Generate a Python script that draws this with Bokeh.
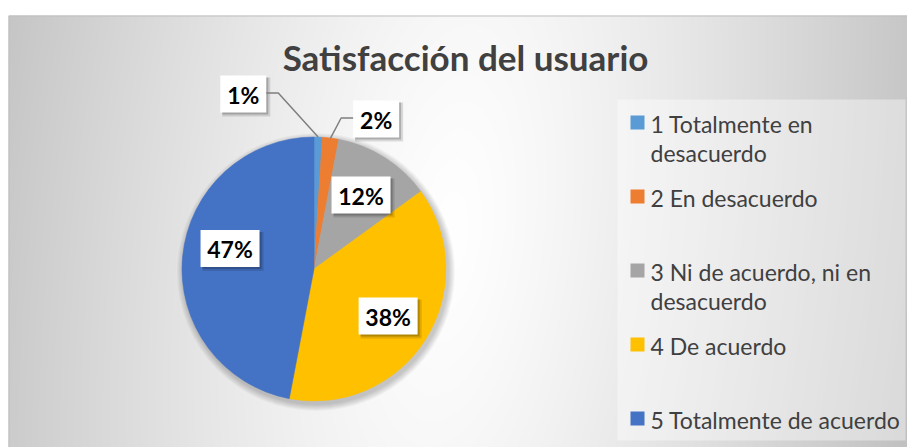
import math
import textwrap
import numpy as np
from bokeh.plotting import figure
from bokeh.models import Range1d
from bokeh.core.properties import value
from bokeh.embed import file_html
from bokeh.resources import INLINE

# ---- data ----
title_text = "Satisfacción del usuario"
categories = [
    "1 Totalmente en desacuerdo",
    "2 En desacuerdo",
    "3 Ni de acuerdo, ni en desacuerdo",
    "4 De acuerdo",
    "5 Totalmente de acuerdo",
]
shares = [1, 2, 12, 38, 47]
colors = ["#5B9BD5", "#ED7D31", "#A5A5A5", "#FFC000", "#4472C4"]

# ---- layout (pixel-like data space) ----
W, H = 907, 447
OX, OY = 0, 447          # image -> data: x = X - OX, y = OY - Y
def dx(X): return X - OX
def dy(Y): return OY - Y

FONT = "Lato"
cx, cy, R = dx(313.5), dy(268.5), 132.0
# label placement: (angle from top in deg, distance as fraction of R) ; None = slice middle
label_layout = [(-22.0, 1.43), (22.5, 1.23), (None, 0.665), (None, 0.665), (8.4, 0.655)]

p = figure(width=W, height=H, x_range=Range1d(0, W), y_range=Range1d(0, H),
           output_backend="svg", toolbar_location=None,
           x_axis_type=None, y_axis_type=None, min_border=0,
           background_fill_color="white", border_fill_color="white",
           outline_line_color=None)
p.grid.visible = False

# ---- background gradient ----
left_x, top_y = dx(8), dy(15)
cols, rows = W - 8, 216
xs = left_x + np.arange(cols) + 0.5
ys = (np.arange(rows) + 0.5) * (top_y / rows)
Xg, Yg = np.meshgrid(xs + OX, OY - ys)
xc = 470 - (Yg - 30) * 40 / 410
ax = np.where(Xg < xc, 455.0, 440.0)
t = np.sqrt(((Xg - xc) / ax) ** 2 + ((Yg - 235) / 1100) ** 2)
v = np.clip(255 - 55 * t ** 1.25, 190, 255).astype(np.uint8)
img = np.empty((rows, cols), dtype=np.uint32)
view = img.view(dtype=np.uint8).reshape((rows, cols, 4))
view[..., 0] = v
view[..., 1] = v
view[..., 2] = v
view[..., 3] = 255
p.image_rgba(image=[img], x=left_x, y=0, dw=cols, dh=top_y)
# chart border
p.line(x=[left_x + 0.5, left_x + 0.5, W], y=[0, top_y - 0.5, top_y - 0.5],
       line_color="#BFBFBF", line_width=1)

# ---- legend area overlay ----
p.quad(left=dx(617), right=dx(905), bottom=dy(440), top=dy(99),
       fill_color="white", fill_alpha=0.4, line_color=None)

# ---- title ----
p.text(x=[dx(465)], y=[dy(56)], text=[title_text], text_font=value(FONT),
       text_font_size="35px", text_font_style="bold", text_color="#404040",
       text_align="center", text_baseline="middle")

# ---- pie shadow ----
for k in range(1, 8):
    p.circle(x=[cx + 2], y=[cy - 3], radius=R + k, fill_color="black",
             fill_alpha=0.03, line_color=None)

# ---- pie ----
total = float(sum(shares))
cum = np.concatenate([[0], np.cumsum(shares)]) / total
starts = math.pi / 2 - 2 * math.pi * cum[:-1]
ends = math.pi / 2 - 2 * math.pi * cum[1:]
p.wedge(x=cx, y=cy, radius=R, start_angle=starts, end_angle=ends,
        direction="clock", fill_color=colors, line_color=colors, line_width=0.5)

# ---- data labels ----
mids_deg = [(cum[i] + cum[i + 1]) / 2 * 360 for i in range(len(shares))]
lab_txt = [f"{round(s / total * 100)}%" for s in shares]
box_h = 37
for i, s in enumerate(shares):
    ang, frac = label_layout[i]
    if ang is None:
        a = mids_deg[i]
    elif frac < 1:
        a = mids_deg[i] + ang
    else:
        a = ang
    lx = cx + frac * R * math.sin(math.radians(a))
    ly = cy + frac * R * math.cos(math.radians(a))
    bw = 20 + 13 * len(lab_txt[i])
    # shadow
    p.rect(x=[lx + 3], y=[ly - 3], width=bw + 2, height=box_h + 2,
           fill_color="black", fill_alpha=0.12, line_color=None)
    p.rect(x=[lx + 2], y=[ly - 2], width=bw, height=box_h,
           fill_color="black", fill_alpha=0.2, line_color=None)
    p.rect(x=[lx], y=[ly], width=bw, height=box_h, fill_color="white", line_color=None)
    p.text(x=[lx], y=[ly - 1], text=[lab_txt[i]], text_font=value(FONT),
           text_font_size="23px", text_font_style="bold", text_color="black",
           text_align="center", text_baseline="middle")
    if frac > 1:
        # leader line from the box to the slice edge
        ma = math.radians(mids_deg[i])
        ex = cx + R * math.sin(ma)
        ey = cy + R * math.cos(ma)
        side = 1 if lx < ex else -1
        bx = lx + side * bw / 2
        p.line(x=[bx, bx + side * 12, ex], y=[ly + 1, ly + 1, ey],
               line_color="#7F7F7F", line_width=1.5)

# ---- legend ----
leg_x_sq = dx(637)
leg_x_txt = dx(650)
leg_top = dy(122)
leg_step = 74
line_h = 29
for i, name in enumerate(categories):
    yc = leg_top - i * leg_step
    p.scatter(x=[leg_x_sq], y=[yc], marker="square", size=14,
              fill_color=colors[i], line_color=None)
    for j, ln in enumerate(textwrap.wrap(name, width=23)):
        p.text(x=[leg_x_txt], y=[yc - 1 - j * line_h], text=[ln], text_font=value(FONT),
               text_font_size="23px", text_color="#404040",
               text_align="left", text_baseline="middle")

open("out.html", "w").write(file_html(p, INLINE))
